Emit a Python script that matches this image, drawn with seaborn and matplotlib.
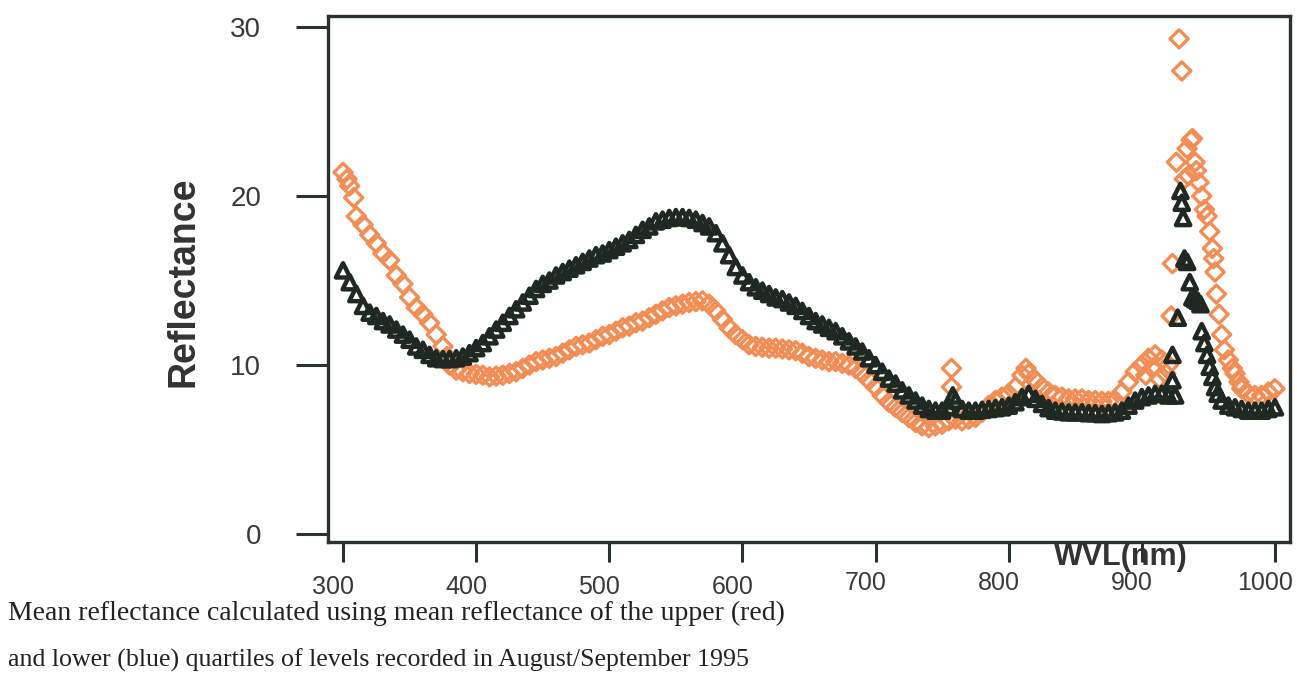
import numpy as np
import pandas as pd
import matplotlib
matplotlib.use("Agg")
import matplotlib.pyplot as plt
import seaborn as sns
from matplotlib import font_manager
from matplotlib.transforms import ScaledTranslation

# ---------------- data ----------------
wvl_upper = [300, 303, 305, 308, 310, 315, 320, 325, 330, 335, 340, 345, 350, 355, 360, 365,
             370, 375, 378, 380, 385, 390, 395, 400, 405, 410, 415, 420, 425, 430, 435, 440,
             445, 450, 455, 460, 465, 470, 475, 480, 485, 490, 495, 500, 505, 510, 515, 520,
             525, 530, 535, 540, 545, 550, 555, 560, 565, 570, 575, 580, 585, 590, 595, 600,
             605, 610, 615, 620, 625, 630, 635, 640, 645, 650, 655, 660, 665, 670, 675, 680,
             685, 690, 695, 700, 705, 710, 715, 720, 725, 730, 735, 740, 745, 750, 755, 757,
             757, 760, 765, 770, 775, 780, 785, 790, 795, 800, 805, 810, 813, 815, 820, 825,
             830, 835, 840, 845, 850, 855, 860, 865, 870, 875, 880, 885, 890, 895, 900, 903,
             905, 908, 910, 913, 915, 918, 920, 922, 923, 926, 928, 930, 932, 934, 935, 937,
             938, 940, 941, 943, 945, 947, 949, 951, 953, 954, 955, 956, 958, 960, 962, 965,
             968, 970, 973, 975, 980, 985, 990, 995, 1000]
refl_upper = [21.4, 21.0, 20.6, 19.9, 18.8, 18.3, 17.7, 17.2, 16.6, 16.2, 15.3, 14.8, 14.0, 13.4, 13.0, 12.5,
              11.8, 11.1, 10.5, 10.0, 9.7, 9.6, 9.5, 9.45, 9.4, 9.3, 9.35, 9.4, 9.5, 9.6, 9.8, 10.0,
              10.2, 10.3, 10.4, 10.5, 10.7, 10.9, 11.1, 11.2, 11.3, 11.5, 11.7, 11.8, 12.0, 12.2, 12.3, 12.5,
              12.6, 12.8, 13.0, 13.2, 13.4, 13.5, 13.6, 13.7, 13.75, 13.8, 13.6, 13.2, 12.7, 12.2, 11.8, 11.5,
              11.2, 11.1, 11.05, 11.0, 11.0, 10.95, 10.9, 10.85, 10.7, 10.5, 10.4, 10.3, 10.2, 10.2, 10.1, 10.0,
              9.8, 9.5, 9.1, 8.7, 8.2, 7.8, 7.5, 7.2, 6.9, 6.6, 6.4, 6.3, 6.4, 6.5, 6.7, 9.8,
              8.7, 6.8, 6.7, 6.8, 6.9, 7.2, 7.6, 7.9, 8.1, 8.3, 8.7, 9.4, 9.8, 9.5, 9.1, 8.7,
              8.4, 8.2, 8.1, 8.0, 8.0, 8.0, 7.9, 7.9, 7.85, 7.85, 7.9, 8.4, 9.0, 9.6, 10.0, 9.4,
              10.4, 9.8, 10.6, 9.2, 10.3, 9.5, 10.0, 12.9, 16.0, 22.0, 29.3, 27.4, 21.0, 22.8, 21.2, 23.3,
              23.4, 22.0, 21.5, 20.8, 20.0, 19.2, 18.8, 17.9, 16.9, 16.3, 15.5, 14.2, 13.0, 11.8, 10.9, 10.3,
              9.8, 9.5, 9.0, 8.6, 8.3, 8.2, 8.2, 8.4, 8.6]

wvl_lower = [300, 305, 310, 315, 320, 325, 330, 335, 340, 345, 350, 355, 360, 365, 370, 375,
             380, 385, 390, 395, 400, 405, 410, 415, 420, 425, 430, 435, 440, 445, 450, 455,
             460, 465, 470, 475, 480, 485, 490, 495, 500, 505, 510, 515, 520, 525, 530, 535,
             540, 545, 550, 555, 560, 565, 570, 575, 580, 585, 590, 595, 600, 605, 610, 615,
             620, 625, 630, 635, 640, 645, 650, 655, 660, 665, 670, 675, 680, 685, 690, 695,
             700, 705, 710, 715, 720, 725, 730, 735, 740, 745, 750, 755, 758, 760, 765, 770,
             775, 780, 785, 790, 795, 800, 805, 810, 815, 820, 825, 830, 835, 840, 845, 850,
             855, 860, 865, 870, 875, 880, 885, 890, 895, 900, 905, 910, 915, 920, 923, 923,
             925, 927, 929, 930, 931, 932, 934, 936, 938, 940, 942, 944, 945, 947, 949, 951,
             953, 955, 957, 960, 965, 970, 975, 980, 985, 990, 995, 1000]
refl_lower = [15.6, 14.9, 14.2, 13.5, 13.1, 12.9, 12.6, 12.4, 12.1, 11.8, 11.5, 11.1, 10.9, 10.6, 10.4, 10.35,
              10.35, 10.4, 10.5, 10.7, 11.0, 11.3, 11.7, 12.1, 12.5, 12.9, 13.3, 13.7, 14.1, 14.5, 14.8, 15.0,
              15.3, 15.5, 15.7, 15.9, 16.1, 16.3, 16.5, 16.6, 16.8, 17.0, 17.2, 17.4, 17.7, 18.0, 18.2, 18.5,
              18.6, 18.7, 18.75, 18.75, 18.7, 18.6, 18.4, 18.2, 17.8, 17.2, 16.5, 15.8, 15.3, 14.9, 14.6, 14.4,
              14.2, 14.0, 13.9, 13.7, 13.5, 13.2, 12.9, 12.6, 12.4, 12.2, 12.0, 11.7, 11.4, 11.1, 10.8, 10.4,
              10.0, 9.6, 9.2, 8.9, 8.5, 8.2, 7.9, 7.6, 7.4, 7.3, 7.3, 7.5, 8.2, 7.9, 7.4, 7.3,
              7.3, 7.35, 7.4, 7.45, 7.5, 7.6, 7.8, 8.1, 8.3, 8.0, 7.7, 7.45, 7.3, 7.25, 7.2, 7.2,
              7.2, 7.15, 7.15, 7.1, 7.15, 7.2, 7.3, 7.6, 7.9, 8.1, 8.2, 8.3, 8.3, 8.2, 10.6, 9.1,
              8.2, 12.8, 20.3, 19.6, 18.7, 16.3, 16.1, 14.9, 14.0, 13.9, 13.8, 13.6, 12.0, 11.3, 10.6, 9.9,
              9.3, 8.7, 8.3, 7.9, 7.6, 7.5, 7.4, 7.3, 7.3, 7.3, 7.4, 7.5]

x_ticks = [300, 400, 500, 600, 700, 800, 900, 1000]
y_ticks = [0, 10, 20, 30]
x_label = "WVL(nm)"
y_label = "Reflectance"
caption_1 = "Mean reflectance calculated using mean reflectance of the upper (red)"
caption_2 = "and lower (blue) quartiles of levels recorded in August/September 1995"

# ---------------- style ----------------
sns.set_style("white")
names = {f.name for f in font_manager.fontManager.ttflist}
tick_family = "Liberation Sans Narrow" if "Liberation Sans Narrow" in names else "Liberation Sans"
plt.rcParams["font.family"] = ["Liberation Sans", "DejaVu Sans"]

ORANGE = "#F28E55"
DARK = "#1F2922"
AXC = "#2A322D"

fig = plt.figure(figsize=(12.97, 6.73), dpi=100)
ax = fig.add_axes([328 / 1297, 1 - 542 / 673, (1290 - 328) / 1297, (542 - 16) / 673])

upper = pd.DataFrame({"wvl": wvl_upper, "refl": refl_upper})
lower = pd.DataFrame({"wvl": wvl_lower, "refl": refl_lower})

sns.scatterplot(data=upper, x="wvl", y="refl", ax=ax, marker="D", s=85,
                facecolor="none", edgecolor=ORANGE, linewidth=2.4, legend=False)
sns.scatterplot(data=lower, x="wvl", y="refl", ax=ax, marker="^", s=105,
                facecolor="none", edgecolor=DARK, linewidth=3.2, legend=False)

ax.set_xlim(288.7, 1011.3)
ax.set_ylim(-0.47, 30.65)
ax.set_xticks(x_ticks)
ax.set_yticks(y_ticks)
ax.set_xticklabels([str(v) for v in x_ticks], family=tick_family, fontsize=18, color="#3a3a3a")
ax.set_yticklabels([str(v) for v in y_ticks], family=tick_family, fontsize=20, color="#3a3a3a")
ax.tick_params(axis="y", direction="out", length=23, width=2.2, color=AXC, pad=25, left=True)
ax.tick_params(axis="x", direction="out", length=14.4, width=2.2, color=AXC, pad=13, bottom=True)

for side in ["left", "bottom", "top", "right"]:
    ax.spines[side].set_visible(True)
    ax.spines[side].set_color(AXC)
    ax.spines[side].set_linewidth(2.4)

ax.set_xlabel(x_label, fontsize=22, fontweight="bold", color="#333333", va="center", ha="center")
ax.xaxis.set_label_coords((1121 - 328) / 962, (542 - 557) / 526)
ax.set_ylabel(y_label, fontsize=27, fontweight="bold", color="#333333", va="center", ha="center")
ax.yaxis.set_label_coords((183 - 328) / 962, (542 - 282) / 526)

# scan-like offsets of the x tick labels
for val, lbl in zip(x_ticks, ax.get_xticklabels()):
    dy = 9 if val >= 700 else 5
    lbl.set_transform(lbl.get_transform() + ScaledTranslation(-10 / 100, dy / 100, fig.dpi_scale_trans))

t1 = fig.text(8 / 1297, 1 - 620 / 673, caption_1, family=["Liberation Serif", "DejaVu Serif"],
              fontsize=18, va="baseline", ha="left", color="#222222")
t2 = fig.text(8 / 1297, 1 - 667 / 673, caption_2, family=["Liberation Serif", "DejaVu Serif"],
              fontsize=18, va="baseline", ha="left", color="#222222")
fig.canvas.draw()
r = fig.canvas.get_renderer()
for t, target in [(t1, 780), (t2, 742)]:
    w = t.get_window_extent(r).width
    t.set_fontsize(t.get_fontsize() * target / w)

fig.savefig("out.png", dpi=100, facecolor="white")
